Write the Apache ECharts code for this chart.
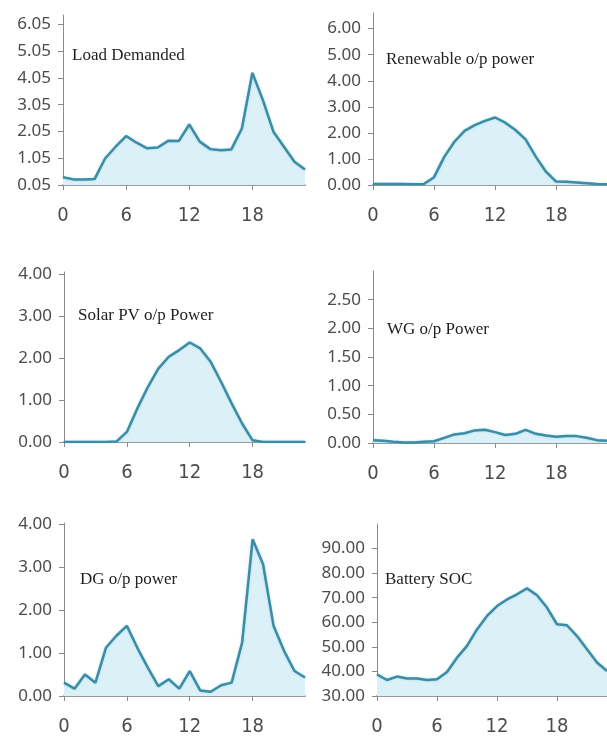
<!DOCTYPE html>
<html>
<head>
<meta charset="utf-8">
<script src="https://cdn.jsdelivr.net/npm/echarts@6/dist/echarts.min.js"></script>
<style>
html,body{margin:0;padding:0;background:#fff;overflow:hidden;}
#chart{width:607px;height:737px;}
</style>
</head>
<body>
<div id="chart"></div>
<script>
// hours 0..23
var hours = [];
for (var h = 0; h < 24; h++) hours.push(h);
var xTicks = [0, 6, 12, 18];

var loadDemanded = [0.34,0.26,0.26,0.27,1.04,1.48,1.88,1.63,1.42,1.45,1.70,1.69,2.31,1.67,1.39,1.35,1.38,2.16,4.24,3.22,2.04,1.48,0.92,0.63];
var renewablePower = [0.04,0.04,0.04,0.04,0.03,0.04,0.30,1.08,1.66,2.08,2.30,2.46,2.59,2.39,2.11,1.75,1.09,0.51,0.13,0.12,0.10,0.07,0.04,0.03];
var solarPower = [0,0,0,0,0,0.01,0.24,0.80,1.31,1.75,2.03,2.19,2.37,2.23,1.91,1.43,0.92,0.44,0.04,0,0,0,0,0];
var wgPower = [0.05,0.04,0.02,0.01,0.01,0.02,0.03,0.09,0.15,0.17,0.22,0.23,0.19,0.14,0.16,0.23,0.16,0.13,0.11,0.12,0.12,0.09,0.05,0.04];
var dgPower = [0.31,0.17,0.50,0.31,1.12,1.40,1.63,1.12,0.66,0.23,0.39,0.17,0.58,0.13,0.10,0.25,0.31,1.24,3.64,3.06,1.63,1.05,0.58,0.43];
var batterySoc = [38.8,36.5,37.9,37.1,37.1,36.5,36.8,39.8,45.6,50.4,57.1,62.6,66.6,69.3,71.4,73.8,71.0,66.0,59.2,58.8,54.4,49.0,43.6,40.2];

var loadTicks = [0.05,1.05,2.05,3.05,4.05,5.05,6.05];
var renewTicks = [0,1,2,3,4,5,6];
var solarTicks = [0,1,2,3,4];
var wgTicks = [0,0.5,1,1.5,2,2.5];
var dgTicks = [0,1,2,3,4];
var socTicks = [30,40,50,60,70,80,90];

var panels = [
    {name:'Load Demanded', data:loadDemanded, ticks:loadTicks, min:0.05, max:6.4, grid:{left:63, top:15, width:242, height:170}, title:[72,47]},
    {name:'Renewable o/p power', data:renewablePower, ticks:renewTicks, min:0, max:6.6, grid:{left:373, top:13, width:243, height:172}, title:[386,51]},
    {name:'Solar PV o/p Power', data:solarPower, ticks:solarTicks, min:0, max:4.05, grid:{left:64, top:272, width:241, height:170}, title:[78,307]},
    {name:'WG o/p Power', data:wgPower, ticks:wgTicks, min:0, max:3, grid:{left:373, top:271, width:243, height:172}, title:[387,321]},
    {name:'DG o/p power', data:dgPower, ticks:dgTicks, min:0, max:4.02, grid:{left:64, top:523, width:241, height:174}, title:[80,571]},
    {name:'Battery SOC', data:batterySoc, ticks:socTicks, min:30, max:100, grid:{left:377, top:524, width:232, height:173}, title:[385,571]}
];

var yLabelFont = {fontFamily:'Noto Sans', fontSize:17, color:'#4c4c4c'};
var xLabelFont = {fontFamily:'"DejaVu Sans Condensed", Roboto', fontSize:20, color:'#4c4c4c'};
var option = {
    backgroundColor:'#fff',
    animation:false,
    title:[], grid:[], xAxis:[], yAxis:[], series:[]
};

panels.forEach(function(p, i){
    option.title.push({
        text:p.name, left:p.title[0], top:p.title[1], padding:0,
        textStyle:{fontFamily:'Liberation Serif', fontSize:17, fontWeight:'normal', color:'#1e1e1e'}
    });
    option.grid.push(p.grid);
    option.xAxis.push({
        type:'value', gridIndex:i, min:0, max:23,
        axisLine:{lineStyle:{color:'#9a9a9a', width:2}},
        axisTick:{show:true, length:5, customValues:xTicks, lineStyle:{color:'#8a8a8a'}},
        axisLabel:Object.assign({margin:21, customValues:xTicks}, xLabelFont),
        splitLine:{show:false}
    });
    option.yAxis.push({
        type:'value', gridIndex:i, min:p.min, max:p.max,
        axisLine:{show:true, lineStyle:{color:'#8a8a8a', width:1}},
        axisTick:{show:true, length:5, customValues:p.ticks, lineStyle:{color:'#8a8a8a'}},
        axisLabel:Object.assign({margin:12, customValues:p.ticks, formatter:function(v){return v.toFixed(2);}}, yLabelFont),
        splitLine:{show:false}
    });
    option.series.push({
        type:'line', xAxisIndex:i, yAxisIndex:i,
        data:hours.map(function(h){return [h, p.data[h]];}),
        showSymbol:false,
        lineStyle:{color:'#3d8ca4', width:2.5, shadowColor:'rgba(90,200,230,0.6)', shadowBlur:2},
        areaStyle:{color:'#dcf0f8', opacity:1, origin:'start'}
    });
});

var chart = echarts.init(document.getElementById('chart'));
chart.setOption(option);
</script>
</body>
</html>
